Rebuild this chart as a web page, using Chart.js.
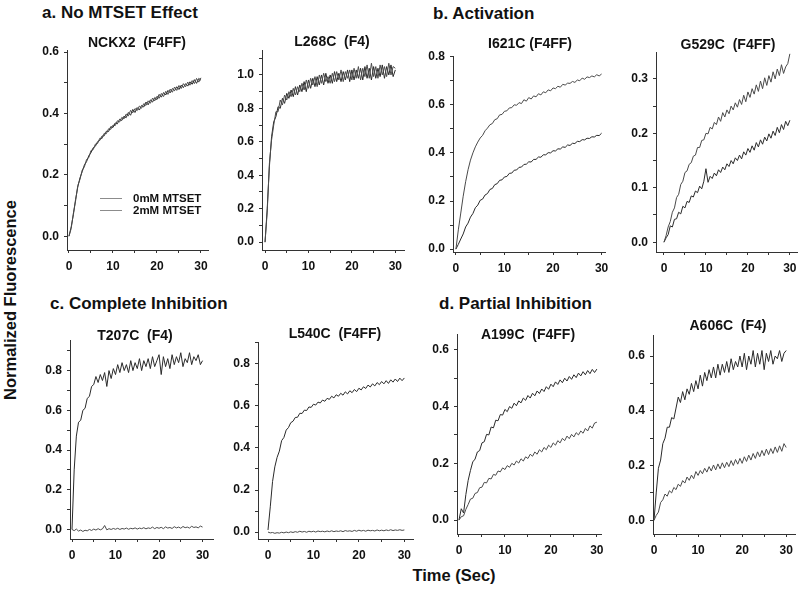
<!DOCTYPE html>
<html><head><meta charset="utf-8">
<script src="https://cdn.jsdelivr.net/npm/chart.js@4.4.0/dist/chart.umd.min.js"></script>
<style>
html,body{margin:0;padding:0;background:#fff;}
#wrap{position:relative;width:800px;height:589px;overflow:hidden;background:#fff;font-family:'Liberation Sans',Arial,sans-serif;font-weight:bold;color:#111;}
#wrap canvas{position:absolute;}
.pt{position:absolute;white-space:pre;transform:translate(-50%,-50%);font-size:14px;line-height:1;}
.st{position:absolute;white-space:pre;transform:translateY(-50%);font-size:17px;line-height:1;}
.ax{position:absolute;white-space:pre;font-size:16.5px;line-height:1;}
.lg{position:absolute;font-size:11.5px;line-height:1;white-space:pre;transform:translateY(-50%);}
.ll{position:absolute;height:0;border-top:1.2px solid #8c8c8c;width:22px;}
</style>
</head><body>
<div id="wrap">
  <div class="st" style="left:42px;top:12px;">a. No MTSET Effect</div>
  <div class="st" style="left:433px;top:13px;">b. Activation</div>
  <div class="st" style="left:50px;top:303px;">c. Complete Inhibition</div>
  <div class="st" style="left:439px;top:303px;">d. Partial Inhibition</div>
  <div class="ax" style="left:10px;top:300px;transform:translate(-50%,-50%) rotate(-90deg);">Normalized Fluorescence</div>
  <div class="ax" style="left:454px;top:575px;transform:translate(-50%,-50%);">Time (Sec)</div>
</div>
<script>
// ---- time axis (seconds) ----
const time = [0,0.5,1,1.5,2,2.5,3,3.5,4,4.5,5,5.5,6,6.5,7,7.5,8,8.5,9,9.5,10,10.5,11,11.5,12,12.5,13,13.5,14,14.5,15,15.5,16,16.5,17,17.5,18,18.5,19,19.5,20,20.5,21,21.5,22,22.5,23,23.5,24,24.5,25,25.5,26,26.5,27,27.5,28,28.5,29,29.5,30];

const seriesNames = ['0mM MTSET','2mM MTSET'];

// ---- a. No MTSET Effect ----
const nckx2_0mM = [0.00,0.03,0.07,0.12,0.16,0.19,0.21,0.232,0.243,0.262,
 0.272,0.288,0.293,0.308,0.312,0.326,0.327,0.342,0.341,0.357,
 0.354,0.369,0.366,0.381,0.377,0.391,0.386,0.403,0.394,0.413,
 0.403,0.419,0.411,0.426,0.421,0.437,0.428,0.444,0.437,0.452,
 0.445,0.462,0.453,0.468,0.46,0.475,0.467,0.481,0.474,0.487,
 0.478,0.492,0.484,0.497,0.489,0.503,0.495,0.51,0.498,0.514,0.508];
const nckx2_2mM = [0.00,0.025,0.075,0.115,0.165,0.185,0.215,0.226,0.25,0.256,
 0.279,0.282,0.3,0.302,0.319,0.318,0.335,0.334,0.35,0.348,
 0.362,0.36,0.376,0.372,0.387,0.382,0.398,0.392,0.41,0.402,
 0.416,0.409,0.424,0.417,0.432,0.426,0.441,0.433,0.45,0.441,
 0.456,0.449,0.465,0.455,0.472,0.462,0.479,0.469,0.486,0.475,
 0.491,0.481,0.497,0.487,0.502,0.492,0.507,0.497,0.514,0.502,0.516];
const l268c_0mM = [0.00,0.2,0.45,0.63,0.72,0.75,0.81,0.8,0.86,0.83,
 0.89,0.86,0.91,0.87,0.93,0.88,0.94,0.9,0.96,0.9,
 0.97,0.92,0.98,0.93,0.99,0.94,1.0,0.94,1.01,0.95,
 1.0,0.95,1.02,0.96,1.01,0.96,1.02,0.97,1.03,0.96,
 1.03,0.97,1.03,0.98,1.04,0.97,1.05,0.98,1.04,0.97,
 1.05,0.98,1.04,0.99,1.06,0.98,1.05,1.0,1.06,0.99,1.03];
const l268c_2mM = [0.00,0.18,0.47,0.61,0.7,0.78,0.78,0.85,0.82,0.88,
 0.85,0.9,0.87,0.92,0.88,0.93,0.9,0.95,0.91,0.97,
 0.92,0.98,0.94,0.99,0.93,1.0,0.95,1.01,0.96,0.99,
 0.95,1.01,0.96,1.02,0.97,1.03,0.96,1.02,0.98,1.03,
 0.97,1.04,0.98,1.05,0.97,1.04,0.99,1.06,0.98,1.07,
 0.99,1.05,0.98,1.06,1.0,1.05,0.99,1.07,1.0,1.05,1.04];

// ---- b. Activation ----
const i621c_0mM = [0.00,0.02,0.042,0.063,0.092,0.108,0.133,0.148,0.172,0.183,
 0.203,0.208,0.225,0.231,0.248,0.252,0.268,0.272,0.286,0.288,
 0.3,0.302,0.315,0.316,0.328,0.329,0.34,0.341,0.352,0.353,
 0.363,0.362,0.373,0.373,0.383,0.382,0.392,0.392,0.401,0.4,
 0.409,0.408,0.417,0.416,0.425,0.423,0.433,0.431,0.44,0.439,
 0.448,0.447,0.455,0.454,0.461,0.46,0.467,0.466,0.473,0.472,0.482];
const i621c_2mM = [0.00,0.08,0.15,0.22,0.28,0.33,0.37,0.40,0.425,0.445,
 0.462,0.473,0.492,0.503,0.517,0.522,0.538,0.542,0.558,0.56,
 0.573,0.575,0.587,0.588,0.6,0.598,0.609,0.605,0.621,0.615,
 0.63,0.624,0.637,0.633,0.646,0.641,0.654,0.65,0.662,0.658,
 0.67,0.667,0.677,0.673,0.685,0.682,0.69,0.689,0.697,0.693,
 0.703,0.7,0.711,0.706,0.716,0.713,0.72,0.716,0.725,0.72,0.728];
const g529c_0mM = [0.00,0.008,0.014,0.03,0.028,0.042,0.043,0.055,0.052,0.066,
 0.063,0.075,0.073,0.085,0.083,0.094,0.091,0.103,0.098,0.112,
 0.135,0.11,0.121,0.117,0.127,0.122,0.133,0.128,0.138,0.133,
 0.144,0.139,0.15,0.144,0.155,0.15,0.16,0.153,0.166,0.16,
 0.172,0.165,0.177,0.169,0.183,0.175,0.188,0.18,0.193,0.186,
 0.199,0.191,0.204,0.196,0.211,0.201,0.216,0.207,0.222,0.214,0.224];
const g529c_2mM = [0.00,0.012,0.028,0.038,0.055,0.063,0.082,0.088,0.106,0.112,
 0.128,0.131,0.143,0.146,0.158,0.16,0.174,0.174,0.187,0.188,
 0.2,0.199,0.211,0.208,0.22,0.216,0.23,0.222,0.238,0.23,
 0.243,0.236,0.25,0.243,0.256,0.248,0.262,0.253,0.27,0.258,
 0.276,0.266,0.282,0.272,0.289,0.277,0.296,0.282,0.302,0.288,
 0.306,0.294,0.313,0.3,0.318,0.306,0.326,0.31,0.322,0.328,0.346];

// ---- c. Complete Inhibition ----
const t207c_0mM = [0.00,0.3,0.47,0.54,0.55,0.6,0.61,0.66,0.67,0.72,
 0.73,0.77,0.74,0.78,0.75,0.79,0.72,0.8,0.76,0.81,
 0.78,0.83,0.79,0.84,0.8,0.83,0.79,0.85,0.8,0.84,
 0.81,0.86,0.8,0.85,0.82,0.86,0.81,0.87,0.82,0.85,
 0.88,0.78,0.87,0.82,0.86,0.81,0.88,0.83,0.87,0.84,
 0.89,0.82,0.86,0.84,0.89,0.83,0.87,0.85,0.88,0.83,0.85];
const t207c_2mM = [0.00,-0.006,0.002,-0.008,-0.003,-0.01,-0.004,-0.007,0.0,-0.005,
 0.002,-0.003,0.004,-0.002,0.003,0.02,-0.002,0.004,0.0,0.005,
 0.001,0.006,0.0,0.005,0.002,0.007,0.001,0.006,0.003,0.008,
 0.002,0.007,0.004,0.009,0.003,0.008,0.005,0.012,0.004,0.01,
 0.006,0.011,0.004,0.013,0.007,0.01,0.005,0.014,0.008,0.012,
 0.006,0.015,0.009,0.012,0.007,0.016,0.01,0.013,0.008,0.017,0.012];
const l540c_0mM = [0.01,0.12,0.24,0.31,0.355,0.385,0.435,0.45,0.485,0.497,
 0.52,0.527,0.545,0.546,0.565,0.564,0.58,0.578,0.595,0.593,
 0.608,0.604,0.618,0.614,0.628,0.622,0.636,0.631,0.646,0.638,
 0.653,0.646,0.66,0.651,0.667,0.657,0.672,0.663,0.678,0.668,
 0.684,0.676,0.691,0.683,0.699,0.69,0.705,0.695,0.711,0.701,
 0.716,0.705,0.72,0.707,0.724,0.713,0.728,0.716,0.732,0.72,0.733];
const l540c_2mM = [0.00,-0.004,-0.002,-0.006,-0.003,-0.005,-0.001,-0.004,0.0,-0.003,
 0.001,-0.002,0.002,-0.001,0.004,0.0,0.003,-0.001,0.004,0.001,
 0.004,0.0,0.005,0.002,0.004,0.001,0.005,0.002,0.006,0.002,
 0.005,0.003,0.006,0.002,0.007,0.004,0.006,0.003,0.008,0.004,
 0.009,0.005,0.008,0.004,0.009,0.006,0.008,0.005,0.01,0.006,
 0.009,0.006,0.01,0.007,0.011,0.007,0.01,0.008,0.011,0.008,0.01];

// ---- d. Partial Inhibition ----
const a199c_0mM = [0.00,0.04,0.025,0.09,0.14,0.175,0.205,0.215,0.24,0.245,
 0.272,0.276,0.302,0.3,0.328,0.325,0.352,0.35,0.372,0.37,
 0.39,0.382,0.4,0.394,0.412,0.403,0.42,0.413,0.43,0.422,
 0.439,0.43,0.447,0.438,0.455,0.446,0.462,0.453,0.47,0.461,
 0.479,0.47,0.487,0.478,0.494,0.484,0.5,0.49,0.506,0.496,
 0.512,0.502,0.518,0.508,0.523,0.512,0.527,0.516,0.531,0.52,0.532];
const a199c_2mM = [0.00,0.012,0.015,0.038,0.055,0.074,0.077,0.094,0.097,0.114,
 0.116,0.133,0.131,0.147,0.145,0.161,0.158,0.173,0.17,0.184,
 0.178,0.192,0.186,0.2,0.194,0.208,0.201,0.216,0.208,0.223,
 0.217,0.232,0.225,0.24,0.232,0.248,0.24,0.256,0.248,0.264,
 0.256,0.272,0.264,0.28,0.272,0.288,0.28,0.296,0.287,0.302,
 0.293,0.308,0.3,0.314,0.306,0.323,0.314,0.332,0.324,0.342,0.345];
const a606c_0mM = [0.00,0.1,0.19,0.22,0.28,0.3,0.34,0.34,0.375,0.37,
 0.41,0.45,0.43,0.47,0.44,0.48,0.46,0.5,0.47,0.51,
 0.48,0.53,0.49,0.54,0.51,0.55,0.52,0.56,0.52,0.57,
 0.53,0.57,0.54,0.58,0.54,0.59,0.55,0.58,0.56,0.6,
 0.56,0.61,0.55,0.6,0.57,0.62,0.56,0.61,0.57,0.62,
 0.55,0.61,0.58,0.62,0.57,0.6,0.59,0.62,0.58,0.61,0.62];
const a606c_2mM = [0.00,0.018,0.03,0.065,0.075,0.096,0.088,0.108,0.1,0.12,
 0.112,0.132,0.124,0.145,0.136,0.158,0.146,0.165,0.152,0.178,
 0.164,0.182,0.17,0.19,0.176,0.196,0.18,0.202,0.184,0.206,
 0.188,0.21,0.192,0.212,0.196,0.218,0.2,0.222,0.205,0.226,
 0.208,0.232,0.215,0.238,0.22,0.244,0.226,0.25,0.232,0.255,
 0.236,0.26,0.24,0.262,0.244,0.268,0.248,0.272,0.252,0.28,0.266];

const panelTitles = ['NCKX2  (F4FF)','L268C  (F4)','I621C (F4FF)','G529C  (F4FF)','T207C  (F4)','L540C  (F4FF)','A199C  (F4FF)','A606C  (F4)'];

// layout: plot box [left, top, right, bottom] in page px, axis ranges, tick steps
const panels = [
 {title:panelTitles[0], s0:nckx2_0mM, s1:nckx2_2mM, box:[67,48,208,250], xr:[-0.45,31.6], yr:[-0.045,0.606], ys:0.1, yl:0.2, tc:[137,42]},
 {title:panelTitles[1], s0:l268c_0mM, s1:l268c_2mM, box:[262,48,404,250], xr:[-0.7,32], yr:[-0.047,1.148], ys:0.1, yl:0.2, tc:[332,41]},
 {title:panelTitles[2], s0:i621c_0mM, s1:i621c_2mM, box:[453,54,605,252], xr:[-0.6,30.7], yr:[-0.012,0.802], ys:0.1, yl:0.2, tc:[530,43]},
 {title:panelTitles[3], s0:g529c_0mM, s1:g529c_2mM, box:[656,50,797,252], xr:[-1.9,31.7], yr:[-0.018,0.349], ys:0.05, yl:0.1, tc:[728,44]},
 {title:panelTitles[4], s0:t207c_0mM, s1:t207c_2mM, box:[70,338,213,539], xr:[-0.46,32.4], yr:[-0.048,0.953], ys:0.1, yl:0.2, tc:[135,335]},
 {title:panelTitles[5], s0:l540c_0mM, s1:l540c_2mM, box:[258,340,413,539], xr:[-2.2,31.9], yr:[-0.033,0.903], ys:0.1, yl:0.2, tc:[335,333]},
 {title:panelTitles[6], s0:a199c_0mM, s1:a199c_2mM, box:[457,332,601,534], xr:[-0.43,30.9], yr:[-0.049,0.655], ys:0.1, yl:0.2, tc:[528,334]},
 {title:panelTitles[7], s0:a606c_0mM, s1:a606c_2mM, box:[653,333,795,534], xr:[-0.23,32], yr:[-0.05,0.676], ys:0.1, yl:0.2, tc:[728,325]}
];

Chart.defaults.font.family = "'Liberation Sans', Arial, sans-serif";
Chart.defaults.font.weight = 'bold';
Chart.defaults.font.size = 12;
Chart.defaults.color = '#111';

const YW = 40, PT = 10, PR = 14, XH = 26;
const wrap = document.getElementById('wrap');
const axisColor = '#333';

panels.forEach(p => {
  const [L,T,R,B] = p.box;
  const cv = document.createElement('canvas');
  const w = R - L + YW + PR, h = B - T + PT + XH;
  cv.width = w; cv.height = h;
  cv.style.left = (L - YW) + 'px';
  cv.style.top = (T - PT) + 'px';
  cv.style.width = w + 'px'; cv.style.height = h + 'px';
  wrap.appendChild(cv);

  const t = document.createElement('div');
  t.className = 'pt';
  t.textContent = p.title;
  t.style.left = p.tc[0] + 'px';
  t.style.top = p.tc[1] + 'px';
  wrap.appendChild(t);

  const mk = (arr) => time.map((x,i) => ({x:x, y:arr[i]}));
  new Chart(cv, {
    type: 'line',
    data: {
      datasets: [
        {label: seriesNames[1], data: mk(p.s1), borderColor:'#4a4a4a', borderWidth:1, pointRadius:0, tension:0, fill:false},
        {label: seriesNames[0], data: mk(p.s0), borderColor:'#2a2a2a', borderWidth:1, pointRadius:0, tension:0, fill:false}
      ]
    },
    options: {
      responsive:false, animation:false, devicePixelRatio:1,
      layout:{padding:{top:PT, right:PR, left:0, bottom:0}},
      plugins:{legend:{display:false}, tooltip:{enabled:false}, title:{display:false}},
      scales:{
        x:{type:'linear', min:p.xr[0], max:p.xr[1],
           afterFit:(s)=>{s.height = XH;},
           border:{display:true, color:axisColor, width:1},
           grid:{display:true, drawOnChartArea:false, drawTicks:true, tickLength:3, color:axisColor},
           ticks:{stepSize:5, includeBounds:false, autoSkip:false, maxRotation:0, padding:6,
                  callback:(v)=> (Math.abs(v/10 - Math.round(v/10))<1e-6 ? String(Math.round(v)) : '')}},
        y:{type:'linear', min:p.yr[0], max:p.yr[1],
           afterFit:(s)=>{s.width = YW;},
           border:{display:true, color:axisColor, width:1},
           grid:{display:true, drawOnChartArea:false, drawTicks:true, tickLength:3, color:axisColor},
           ticks:{stepSize:p.ys, includeBounds:false, autoSkip:false, padding:5,
                  callback:(v)=> (Math.abs(v/p.yl - Math.round(v/p.yl))<1e-6 ? (Math.round(v/p.yl)*p.yl).toFixed(1) : '')}}
      }
    }
  });
});

// legend in panel a (NCKX2)
const legendItems = [[seriesNames[0], 198], [seriesNames[1], 210]];
legendItems.forEach(([txt, y]) => {
  const ln = document.createElement('div');
  ln.className = 'll'; ln.style.left = '100px'; ln.style.top = y + 'px';
  wrap.appendChild(ln);
  const tx = document.createElement('div');
  tx.className = 'lg'; tx.style.left = '133px'; tx.style.top = (y + 0.5) + 'px';
  tx.textContent = txt;
  wrap.appendChild(tx);
});
</script>
</body></html>
